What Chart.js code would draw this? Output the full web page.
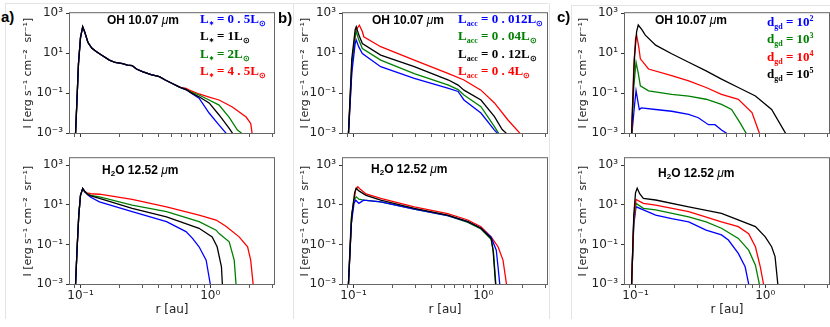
<!DOCTYPE html>
<html>
<head>
<meta charset="utf-8">
<script src="https://cdn.jsdelivr.net/npm/chart.js@4.4.0/dist/chart.umd.min.js"></script>
<style>
    body { margin: 0; width: 830px; height: 327px; overflow: hidden; background: #fff; position: relative; font-family: 'DejaVu Sans', sans-serif; }
    canvas { position: absolute; }
    .txt { position: absolute; white-space: nowrap; line-height: 14px; }
    .title { font-family: 'Liberation Sans', Arial, sans-serif; font-weight: bold; font-size: 12px; color: #000; }
    .title i { font-weight: normal; }
    .title sub { font-size: 8px; vertical-align: -2px; }
    .letter { font-family: 'Liberation Sans', Arial, sans-serif; font-weight: bold; font-size: 15px; color: #000; }
    .leg { font-family: 'Liberation Serif', 'Times New Roman', serif; font-weight: bold; font-size: 13px; line-height: 14px; }
    .leg sub { font-size: 8px; vertical-align: -3px; }
    .leg sub.ast { font-size: 6px; vertical-align: -2px; }
    .leg sup { font-size: 8px; vertical-align: 5px; }
    .sep { position: absolute; background: #e4e4e4; }
</style>
</head>
<body>

<div class="sep" style="left:5px;top:3px;width:543px;height:1px"></div>
<div class="sep" style="left:5px;top:3px;width:1px;height:316px"></div>
<div class="sep" style="left:293px;top:3px;width:1px;height:316px"></div>
<div class="sep" style="left:549px;top:3px;width:1px;height:316px"></div>
<div class="sep" style="left:571px;top:5px;width:1px;height:314px"></div>
<div class="sep" style="left:571px;top:5px;width:259px;height:1px"></div>

<canvas id="c-a-oh" width="264" height="150"></canvas>
<canvas id="c-a-h2o" width="264" height="181"></canvas>
<canvas id="c-b-oh" width="264" height="150"></canvas>
<canvas id="c-b-h2o" width="264" height="181"></canvas>
<canvas id="c-c-oh" width="264" height="150"></canvas>
<canvas id="c-c-h2o" width="264" height="181"></canvas>

<div class="txt letter" style="left:1px;top:10px">a)</div>
<div class="txt letter" style="left:278px;top:11px">b)</div>
<div class="txt letter" style="left:557px;top:10px">c)</div>

<div class="txt title" style="left:107px;top:13px">OH 10.07 <i>μ</i>m</div>
<div class="txt title" style="left:372px;top:13px">OH 10.07 <i>μ</i>m</div>
<div class="txt title" style="left:655px;top:13px">OH 10.07 <i>μ</i>m</div>
<div class="txt title" style="left:102px;top:163px">H<sub>2</sub>O 12.52 <i>μ</i>m</div>
<div class="txt title" style="left:371px;top:162px">H<sub>2</sub>O 12.52 <i>μ</i>m</div>
<div class="txt title" style="left:658px;top:166px">H<sub>2</sub>O 12.52 <i>μ</i>m</div>

<div class="txt leg" style="left:200px;top:12px;color:blue">L<sub class="ast">∗</sub> = 0 . 5L<sub>⊙</sub></div>
<div class="txt leg" style="left:200px;top:29px;color:black">L<sub class="ast">∗</sub> = 1L<sub>⊙</sub></div>
<div class="txt leg" style="left:200px;top:47px;color:green">L<sub class="ast">∗</sub> = 2L<sub>⊙</sub></div>
<div class="txt leg" style="left:200px;top:64px;color:red">L<sub class="ast">∗</sub> = 4 . 5L<sub>⊙</sub></div>

<div class="txt leg" style="left:458px;top:12px;color:blue">L<sub>acc</sub> = 0 . 012L<sub>⊙</sub></div>
<div class="txt leg" style="left:458px;top:29px;color:green">L<sub>acc</sub> = 0 . 04L<sub>⊙</sub></div>
<div class="txt leg" style="left:458px;top:47px;color:black">L<sub>acc</sub> = 0 . 12L<sub>⊙</sub></div>
<div class="txt leg" style="left:458px;top:64px;color:red">L<sub>acc</sub> = 0 . 4L<sub>⊙</sub></div>

<div class="txt leg" style="left:767px;top:12px;color:blue">d<sub>gd</sub> = 10<sup>2</sup></div>
<div class="txt leg" style="left:767px;top:29px;color:green">d<sub>gd</sub> = 10<sup>3</sup></div>
<div class="txt leg" style="left:767px;top:47px;color:red">d<sub>gd</sub> = 10<sup>4</sup></div>
<div class="txt leg" style="left:767px;top:64px;color:black">d<sub>gd</sub> = 10<sup>5</sup></div>

<script>
// ejes
const rTicks = [0.09, 0.1, 0.2, 0.3, 0.4, 0.5, 0.6, 0.7, 0.8, 0.9, 1, 2, 3];
const rTickLabels = { 0.1: '10⁻¹', 1: '10⁰' };
const iTicks = [1e-3, 1e-1, 1e1, 1e3];
const iTickLabels = ['10⁻³', '10⁻¹', '10¹', '10³'];
const rRange = [0.083, 3.1];

// a) OH, variando L*  -- pares [r (au), I]
const ohA_inner = [[0.0912, 5e-4], [0.094, 0.05], [0.0965, 3], [0.1, 60], [0.104, 210], [0.108, 110], [0.114, 35],
    [0.122, 18], [0.132, 12], [0.145, 8], [0.167, 4.5], [0.185, 3.4], [0.211, 3.0], [0.23, 2.5], [0.25, 2.4],
    [0.27, 1.6], [0.30, 1.2], [0.35, 0.85], [0.405, 0.66], [0.45, 0.45], [0.51, 0.30], [0.58, 0.2]];
const ohA_05 = ohA_inner.concat([[0.65, 0.15], [0.73, 0.09], [0.82, 0.055], [0.98, 0.01], [1.17, 0.0025], [1.32, 1e-3], [1.34, 5e-4]]);
const ohA_1 = ohA_inner.concat([[0.65, 0.15], [0.72, 0.1], [0.82, 0.065], [0.98, 0.032], [1.17, 0.008], [1.4, 0.0017], [1.48, 1e-3], [1.5, 5e-4]]);
const ohA_2 = ohA_inner.concat([[0.65, 0.15], [0.72, 0.11], [0.82, 0.08], [0.98, 0.045], [1.17, 0.025], [1.4, 0.006], [1.62, 0.0014], [1.74, 1e-3], [1.76, 5e-4]]);
const ohA_45 = ohA_inner.concat([[0.65, 0.17], [0.69, 0.14], [0.82, 0.09], [0.98, 0.063], [1.17, 0.045], [1.48, 0.02], [1.89, 0.0063], [2.05, 0.003], [2.1, 1e-3], [2.12, 5e-4]]);

// a) H2O
const h2oA_05 = [[0.0912, 5e-4], [0.094, 0.05], [0.097, 3], [0.1, 30], [0.104, 66], [0.108, 45], [0.114, 31], [0.12, 24],
    [0.14, 14], [0.25, 4.5], [0.46, 1.4], [0.65, 0.44], [0.73, 0.2], [0.82, 0.076], [0.93, 0.016], [1.0, 1e-3], [1.02, 4e-4]];
const h2oA_1 = [[0.0912, 5e-4], [0.094, 0.05], [0.097, 3], [0.1, 30], [0.104, 66], [0.108, 45], [0.114, 33], [0.12, 28],
    [0.14, 21], [0.25, 6.6], [0.46, 2.45], [0.82, 0.65], [1.035, 0.24], [1.13, 0.076], [1.22, 0.0074], [1.24, 1e-3], [1.26, 4e-4]];
const h2oA_2 = [[0.0912, 5e-4], [0.094, 0.05], [0.097, 3], [0.1, 30], [0.104, 66], [0.108, 45], [0.114, 35], [0.12, 30],
    [0.14, 25], [0.25, 9.5], [0.46, 4.5], [0.82, 1.4], [1.11, 0.52], [1.17, 0.35], [1.4, 0.135], [1.53, 0.016], [1.58, 1e-3], [1.6, 4e-4]];
const h2oA_45 = [[0.0912, 5e-4], [0.094, 0.05], [0.097, 3], [0.1, 30], [0.104, 66], [0.108, 48], [0.112, 40], [0.12, 36],
    [0.14, 34], [0.25, 18.6], [0.46, 7.9], [0.82, 3.0], [1.11, 1.7], [1.32, 0.83], [1.67, 0.24], [1.94, 0.076], [2.05, 0.016], [2.14, 1e-3], [2.16, 4e-4]];

// b) OH, variando Lacc
const ohB_0012 = [[0.091, 5e-4], [0.097, 1], [0.103, 30], [0.105, 45], [0.11, 20], [0.117, 9.5], [0.162, 2.1], [0.294, 0.54],
    [0.54, 0.17], [0.64, 0.12], [0.71, 0.045], [0.96, 0.01], [1.22, 0.0014], [1.28, 1e-3], [1.3, 5e-4]];
const ohB_004 = [[0.091, 5e-4], [0.097, 3], [0.103, 80], [0.105, 117], [0.11, 45], [0.117, 17], [0.162, 4.5], [0.294, 0.95],
    [0.54, 0.25], [0.64, 0.15], [0.71, 0.08], [0.96, 0.021], [1.22, 0.0021], [1.31, 1e-3], [1.33, 5e-4]];
const ohB_012 = [[0.091, 5e-4], [0.097, 5], [0.103, 150], [0.105, 209], [0.11, 80], [0.117, 30], [0.162, 8], [0.294, 2.1],
    [0.54, 0.45], [0.64, 0.25], [0.71, 0.14], [0.96, 0.045], [1.22, 0.0066], [1.4, 0.0015], [1.5, 1e-3], [1.52, 5e-4]];
const ohB_04 = [[0.091, 5e-4], [0.098, 5], [0.105, 150], [0.111, 250], [0.117, 120], [0.12, 66], [0.162, 21], [0.294, 4.5],
    [0.54, 0.95], [0.71, 0.45], [0.96, 0.14], [1.22, 0.032], [1.55, 0.0045], [1.91, 1e-3], [1.95, 5e-4]];

// b) H2O
const h2oB_0012 = [[0.091, 5e-4], [0.096, 1], [0.101, 12], [0.104, 17], [0.11, 11.7], [0.12, 17], [0.162, 14], [0.294, 6.0],
    [0.532, 2.8], [0.76, 1.4], [0.96, 0.65], [1.15, 0.23], [1.26, 0.051], [1.3, 0.0074], [1.34, 1e-3], [1.36, 5e-4]];
const h2oB_004 = [[0.091, 5e-4], [0.096, 2], [0.101, 18], [0.105, 25], [0.11, 19], [0.12, 17], [0.162, 14], [0.294, 6.0],
    [0.532, 2.8], [0.76, 1.3], [0.96, 0.6], [1.15, 0.18], [1.2, 0.04], [1.25, 1e-3], [1.27, 5e-4]];
const h2oB_012 = [[0.091, 5e-4], [0.097, 3], [0.102, 40], [0.105, 68], [0.11, 50], [0.125, 30], [0.162, 17], [0.294, 6.6],
    [0.532, 3.0], [0.76, 1.4], [0.96, 0.65], [1.15, 0.2], [1.19, 0.051], [1.245, 1e-3], [1.26, 5e-4]];
const h2oB_04 = [[0.091, 5e-4], [0.097, 3], [0.104, 60], [0.108, 81], [0.113, 60], [0.125, 35], [0.162, 21], [0.294, 7.9],
    [0.532, 3.6], [0.76, 1.7], [0.96, 0.78], [1.15, 0.24], [1.3, 0.076], [1.42, 0.016], [1.51, 1e-3], [1.53, 5e-4]];

// c) OH, variando dgd
const ohC_1e2 = [[0.093, 5e-4], [0.098, 0.02], [0.101, 0.13], [0.105, 0.03], [0.107, 0.015], [0.111, 0.018], [0.143, 0.015],
    [0.19, 0.0123], [0.257, 0.0085], [0.305, 0.0058], [0.365, 0.0026], [0.41, 0.0026], [0.46, 0.0014], [0.5, 1e-3], [0.52, 5e-4]];
const ohC_1e3 = [[0.093, 5e-4], [0.097, 0.2], [0.101, 3.5], [0.105, 1], [0.109, 0.23], [0.126, 0.13], [0.19, 0.087],
    [0.257, 0.071], [0.35, 0.049], [0.46, 0.027], [0.55, 0.015], [0.64, 0.0032], [0.71, 1e-3], [0.73, 5e-4]];
const ohC_1e4 = [[0.093, 5e-4], [0.097, 2], [0.1, 50], [0.102, 80], [0.106, 20], [0.109, 5.2], [0.126, 1.6], [0.19, 0.74],
    [0.257, 0.41], [0.35, 0.19], [0.46, 0.087], [0.62, 0.049], [0.79, 0.0105], [0.9, 1e-3], [0.92, 5e-4]];
const ohC_1e5 = [[0.093, 5e-4], [0.098, 5], [0.102, 120], [0.105, 257], [0.112, 150], [0.119, 80], [0.143, 25], [0.19, 9.3],
    [0.257, 3.5], [0.35, 1.3], [0.46, 0.5], [0.62, 0.19], [0.84, 0.071], [1.12, 0.015], [1.43, 1e-3], [1.46, 5e-4]];

// c) H2O
const h2oC_1e2 = [[0.093, 5e-4], [0.097, 1], [0.101, 7.9], [0.115, 5.5], [0.143, 3.0], [0.19, 2.0], [0.257, 1.38], [0.35, 0.52],
    [0.46, 0.3], [0.52, 0.166], [0.62, 0.035], [0.7, 0.0074], [0.745, 1e-3], [0.76, 5e-4]];
const h2oC_1e3 = [[0.093, 5e-4], [0.097, 1.5], [0.101, 11.7], [0.115, 6.6], [0.143, 5.5], [0.257, 2.45], [0.35, 1.38], [0.46, 0.65],
    [0.62, 0.2], [0.745, 0.051], [0.84, 0.0089], [0.9, 1e-3], [0.92, 5e-4]];
const h2oC_1e4 = [[0.093, 5e-4], [0.097, 2], [0.101, 18.6], [0.115, 11.7], [0.143, 9.5], [0.257, 4.5], [0.46, 1.38], [0.62, 0.79],
    [0.745, 0.35], [0.84, 0.076], [0.916, 0.0074], [0.97, 1e-3], [0.99, 5e-4]];
const h2oC_1e5 = [[0.093, 5e-4], [0.097, 3], [0.1, 40], [0.103, 68], [0.108, 35], [0.115, 21], [0.143, 17.4], [0.257, 7.9],
    [0.46, 3.7], [0.84, 0.79], [1.0, 0.24], [1.12, 0.076], [1.19, 0.024], [1.25, 1e-3], [1.27, 5e-4]];

Chart.defaults.font.family = "'DejaVu Sans', sans-serif";
Chart.defaults.color = '#222';

// marco gris alrededor del area de datos
const marcoPlugin = {
    id: 'marco',
    afterDatasetsDraw(chart) {
        const { ctx, chartArea: a } = chart;
        ctx.save();
        ctx.strokeStyle = '#666';
        ctx.lineWidth = 1;
        ctx.strokeRect(a.left - 0.5, a.top - 0.5, a.right - a.left + 1, a.bottom - a.top + 1);
        ctx.restore();
    }
};

function serie(pares, color) {
    return {
        data: pares.map(p => ({ x: p[0], y: p[1] })),
        borderColor: color,
        borderWidth: 1.3,
        pointRadius: 0,
        tension: 0,
        fill: false
    };
}

function crearPanel(id, left, top, series, inferior, tituloPad) {
    const canvas = document.getElementById(id);
    canvas.style.left = (left - 50) + 'px';
    canvas.style.top = (top - 10) + 'px';

    new Chart(canvas, {
        type: 'line',
        data: { datasets: series },
        plugins: [marcoPlugin],
        options: {
            responsive: false,
            animation: false,
            devicePixelRatio: 1,
            layout: { padding: { top: 10, right: 10, left: 0, bottom: 0 } },
            plugins: { legend: { display: false }, tooltip: { enabled: false } },
            scales: {
                x: {
                    type: 'logarithmic',
                    min: rRange[0],
                    max: rRange[1],
                    border: { display: false },
                    grid: { drawOnChartArea: false, drawTicks: true, tickLength: 4, tickColor: '#333',
                            tickWidth: ctx => (ctx.tick && ctx.tick.major ? 1 : 0.8) },
                    afterBuildTicks: scale => {
                        scale.ticks = rTicks.map(v => ({ value: v, major: v === 0.1 || v === 1 }));
                    },
                    afterFit: scale => { scale.height = inferior ? 45 : 20; },
                    ticks: {
                        autoSkip: false,
                        maxRotation: 0,
                        padding: 1,
                        font: { size: 12 },
                        callback: v => (inferior && rTickLabels[v]) ? rTickLabels[v] : ''
                    },
                    title: {
                        display: inferior,
                        text: 'r [au]',
                        font: { size: 12 },
                        padding: { top: 0, bottom: 12 }
                    }
                },
                y: {
                    type: 'logarithmic',
                    min: 1e-3,
                    max: inferior ? 2240 : 1e3,
                    border: { display: false },
                    grid: { drawOnChartArea: false, drawTicks: true, tickLength: 4, tickColor: '#333' },
                    afterBuildTicks: scale => {
                        scale.ticks = iTicks.map(v => ({ value: v }));
                    },
                    afterFit: scale => { scale.width = 50; },
                    ticks: {
                        padding: 3,
                        font: { size: 12 },
                        callback: v => iTickLabels[iTicks.indexOf(v)]
                    },
                    title: {
                        display: true,
                        text: 'I [erg s⁻¹ cm⁻²  sr⁻¹]',
                        font: { size: 11 },
                        padding: { top: tituloPad, bottom: 0 }
                    }
                }
            }
        }
    });
}

// a)
crearPanel('c-a-oh', 70, 13, [serie(ohA_1, 'black'), serie(ohA_05, 'blue'), serie(ohA_2, 'green'), serie(ohA_45, 'red')], false, 1.4);
crearPanel('c-a-h2o', 70, 158, [serie(h2oA_1, 'black'), serie(h2oA_05, 'blue'), serie(h2oA_2, 'green'), serie(h2oA_45, 'red')], true, 1.4);
// b)
crearPanel('c-b-oh', 343, 13, [serie(ohB_012, 'black'), serie(ohB_0012, 'blue'), serie(ohB_004, 'green'), serie(ohB_04, 'red')], false, 5.4);
crearPanel('c-b-h2o', 343, 158, [serie(h2oB_012, 'black'), serie(h2oB_0012, 'blue'), serie(h2oB_004, 'green'), serie(h2oB_04, 'red')], true, 5.4);
// c)
crearPanel('c-c-oh', 625, 13, [serie(ohC_1e5, 'black'), serie(ohC_1e4, 'red'), serie(ohC_1e3, 'green'), serie(ohC_1e2, 'blue')], false, 1.4);
crearPanel('c-c-h2o', 625, 158, [serie(h2oC_1e5, 'black'), serie(h2oC_1e4, 'red'), serie(h2oC_1e3, 'green'), serie(h2oC_1e2, 'blue')], true, 1.4);
</script>
</body>
</html>
